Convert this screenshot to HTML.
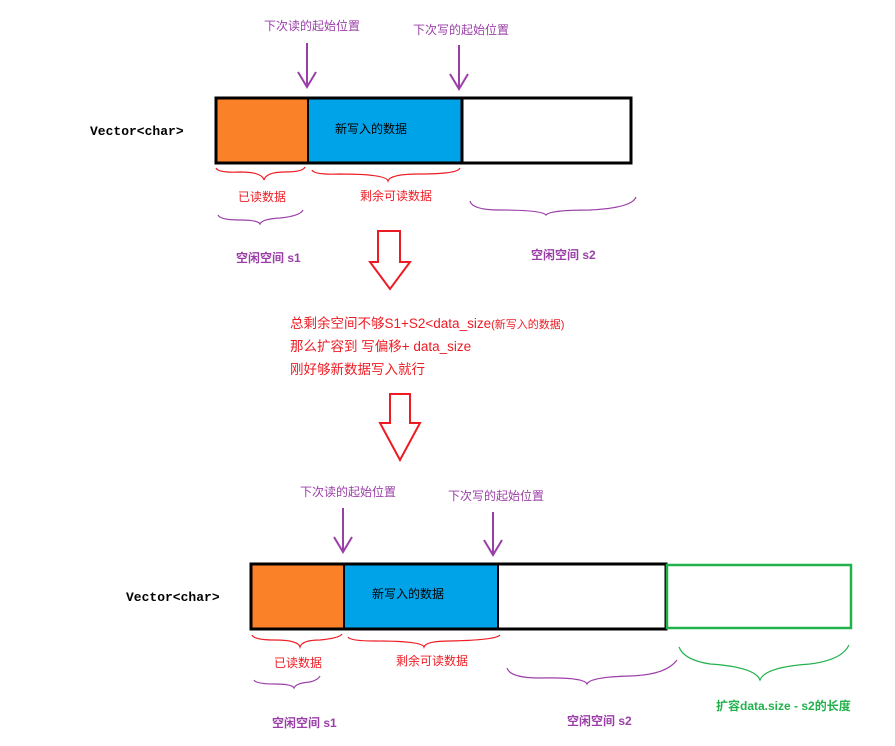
<!DOCTYPE html>
<html><head><meta charset="utf-8"><style>
body{margin:0;background:#fff;}
svg text{font-family:"Liberation Sans","Noto Sans CJK SC",sans-serif;}
</style></head><body>
<svg width="895" height="741" xmlns="http://www.w3.org/2000/svg">
<g font-size="12">
<text x="264" y="30" fill="#9b3fa8">下次读的起始位置</text>
<text x="413" y="34" fill="#9b3fa8">下次写的起始位置</text>
</g>
<g stroke="#9b3fa8" stroke-width="2" fill="none">
<path d="M307 43V86M298 72L307 87L316 72"/>
<path d="M459 45V88M450 74L459 89L468 74"/>
</g>
<rect x="216" y="98" width="92" height="65" fill="#fb8128"/>
<rect x="308" y="98" width="154" height="65" fill="#00a2e8"/>
<rect x="216" y="98" width="415" height="65" fill="none" stroke="#000" stroke-width="3"/>
<line x1="308" y1="98" x2="308" y2="163" stroke="#000" stroke-width="2"/>
<line x1="462" y1="98" x2="462" y2="163" stroke="#000" stroke-width="3"/>
<text x="335" y="133" font-size="12" fill="#000">新写入的数据</text>
<text x="90" y="135" font-size="13" font-weight="bold" font-family="Liberation Mono,monospace" fill="#000" style="font-family:'Liberation Mono',monospace">Vector&lt;char&gt;</text>
<g fill="none" stroke-width="1.2">
<path d="M216 168Q218 173 240 172Q262 172 264 180Q266 172 285 172Q303 172 305 167" stroke="#ed1c24"/>
<path d="M312 170Q314 175 340 174Q386 174 388 181Q390 174 420 174Q458 174 460 168" stroke="#ed1c24"/>
<path d="M218 215Q220 220 240 220Q258 220 260 224Q262 219 280 218Q300 216 303 210" stroke="#9b3fa8"/>
<path d="M470 201Q472 210 500 210Q542 210 546 215Q550 210 590 210Q632 208 636 197" stroke="#9b3fa8"/>
</g>
<g font-size="12">
<text x="238" y="201" fill="#ed1c24">已读数据</text>
<text x="360" y="200" fill="#ed1c24">剩余可读数据</text>
<text x="236" y="262" fill="#9b3fa8" font-weight="bold">空闲空间 s1</text>
<text x="531" y="259" fill="#9b3fa8" font-weight="bold">空闲空间 s2</text>
</g>
<path d="M378 231H400V262H410L390 289L370 262H378Z" fill="none" stroke="#ed1c24" stroke-width="2"/>
<g font-size="13.5" fill="#ed1c24">
<text x="290" y="328">总剩余空间不够S1+S2&lt;data_size<tspan font-size="11">(新写入的数据)</tspan></text>
<text x="290" y="351">那么扩容到 写偏移+ data_size</text>
<text x="290" y="374">刚好够新数据写入就行</text>
</g>
<path d="M390 394H410V423H420L400 460L380 423H390Z" fill="none" stroke="#ed1c24" stroke-width="2"/>
<g font-size="12">
<text x="300" y="496" fill="#9b3fa8">下次读的起始位置</text>
<text x="448" y="500" fill="#9b3fa8">下次写的起始位置</text>
</g>
<g stroke="#9b3fa8" stroke-width="2" fill="none">
<path d="M343 508V551M334 537L343 552L352 537"/>
<path d="M493 512V554M484 540L493 555L502 540"/>
</g>
<rect x="251" y="564" width="93" height="65" fill="#fb8128"/>
<rect x="344" y="564" width="154" height="65" fill="#00a2e8"/>
<rect x="251" y="564" width="415" height="65" fill="none" stroke="#000" stroke-width="3"/>
<line x1="344" y1="564" x2="344" y2="629" stroke="#000" stroke-width="2"/>
<line x1="498" y1="564" x2="498" y2="629" stroke="#000" stroke-width="2"/>
<rect x="667" y="565" width="184" height="63" fill="none" stroke="#22b14c" stroke-width="2.5"/>
<text x="372" y="598" font-size="12" fill="#000">新写入的数据</text>
<text x="126" y="601" font-size="13" font-weight="bold" style="font-family:'Liberation Mono',monospace" fill="#000">Vector&lt;char&gt;</text>
<g fill="none" stroke-width="1.2">
<path d="M252 635Q254 640 275 640Q298 640 300 647Q302 640 320 640Q340 638 342 634" stroke="#ed1c24"/>
<path d="M348 637Q350 641 375 641Q422 641 424 647Q426 641 450 641Q496 640 500 635" stroke="#ed1c24"/>
<path d="M254 680Q256 684 275 684Q292 684 294 688Q296 683 310 682Q318 680 320 676" stroke="#9b3fa8"/>
<path d="M507 668Q510 678 540 678Q584 677 587 684Q590 677 630 676Q666 675 677 660" stroke="#9b3fa8"/>
<path d="M679 647Q684 660 710 664Q755 667 760 680Q765 667 810 664Q842 660 849 645" stroke="#22b14c"/>
</g>
<g font-size="12">
<text x="274" y="667" fill="#ed1c24">已读数据</text>
<text x="396" y="665" fill="#ed1c24">剩余可读数据</text>
<text x="272" y="727" fill="#9b3fa8" font-weight="bold">空闲空间 s1</text>
<text x="567" y="725" fill="#9b3fa8" font-weight="bold">空闲空间 s2</text>
<text x="716" y="710" fill="#22b14c" font-weight="bold">扩容data.size - s2的长度</text>
</g>
</svg>
</body></html>
